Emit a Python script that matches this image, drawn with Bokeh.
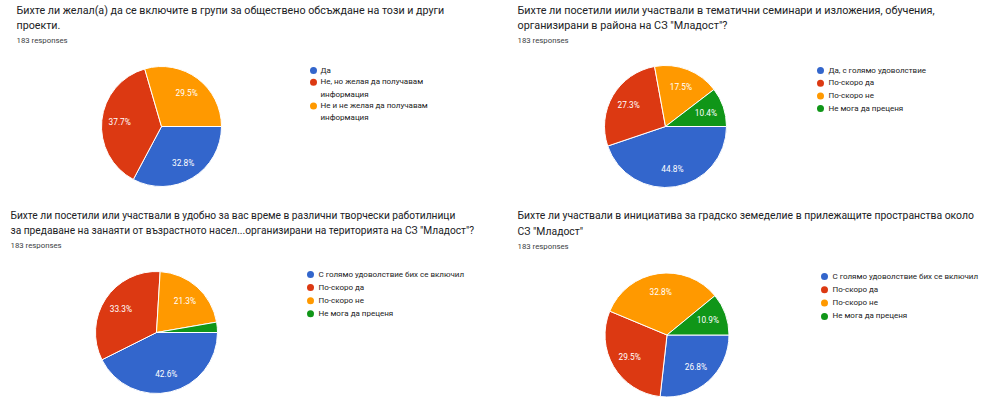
import numpy as np
from bokeh.plotting import figure
from bokeh.models import ColumnDataSource, Range1d
from bokeh.core.properties import value
from bokeh.embed import file_html
from bokeh.resources import INLINE

# ---------------- data ----------------
responses_text = "183 responses"
colors = ["#3366cc", "#dc3912", "#ff9900", "#109618"]

title_1 = ["Бихте ли желал(а) да се включите в групи за обществено обсъждане на този и други",
           "проекти."]
labels_1 = ["Да", "Не, но желая да получавам\nинформация", "Не и не желая да получавам\nинформация"]
counts_1 = [60, 69, 54]

title_2 = ["Бихте ли посетили иили участвали в тематични семинари и изложения, обучения,",
           "организирани в района на СЗ \"Младост\"?"]
labels_2 = ["Да, с голямо удоволствие", "По-скоро да", "По-скоро не", "Не мога да преценя"]
counts_2 = [82, 50, 32, 19]

title_3 = ["Бихте ли посетили или участвали в удобно за вас време в различни творчески работилници",
           "за предаване на занаяти от възрастното насел...организирани на територията на СЗ \"Младост\"?"]
labels_3 = ["С голямо удоволствие бих се включил", "По-скоро да", "По-скоро не", "Не мога да преценя"]
counts_3 = [78, 61, 39, 5]

title_4 = ["Бихте ли участвали в инициатива за градско земеделие в прилежащите пространства около",
           "СЗ \"Младост\""]
labels_4 = ["С голямо удоволствие бих се включил", "По-скоро да", "По-скоро не", "Не мога да преценя"]
counts_4 = [49, 54, 60, 20]

# ---------------- layout (page px from top-left) ----------------
W, H = 1000, 416
layouts = [
    dict(tx=16, ty1=10, ty2=25, ry=40, fs="10.7px", cx=161, cy=126, r=60, lx=313, ltx=320, ly=70, step=11.8),
    dict(tx=517, ty1=10, ty2=25, ry=40, fs="10.8px", cx=665, cy=126, r=61, lx=820, ltx=828, ly=70, step=12.7),
    dict(tx=10, ty1=215, ty2=230, ry=245, fs="10.2px", cx=156, cy=332, r=61, lx=310, ltx=318, ly=274, step=13.1),
    dict(tx=517, ty1=215, ty2=231, ry=246, fs="10.4px", cx=666.5, cy=334.5, r=62, lx=824, ltx=832, ly=276, step=13.3),
]
charts = [(title_1, labels_1, counts_1), (title_2, labels_2, counts_2),
          (title_3, labels_3, counts_3), (title_4, labels_4, counts_4)]

def Y(v):
    return H - v

FONT = value("Roboto")
p = figure(width=W, height=H, x_range=Range1d(0, W), y_range=Range1d(0, H),
           output_backend="svg", toolbar_location=None,
           x_axis_location=None, y_axis_location=None, min_border=0)
p.grid.visible = False
p.outline_line_color = None
p.background_fill_color = "white"
p.border_fill_color = "white"

for (title, labels, counts), L in zip(charts, layouts):
    # titles
    p.text(x=[L["tx"], L["tx"]], y=[Y(L["ty1"]), Y(L["ty2"])], text=title,
           text_font=FONT, text_font_size=L["fs"], text_color="#202124",
           text_baseline="middle", text_align="left")
    p.text(x=[L["tx"]], y=[Y(L["ry"])], text=[responses_text],
           text_font=FONT, text_font_size="7.8px", text_color="#3c4043",
           text_baseline="middle", text_align="left")
    # pie
    vals = np.array(counts, dtype=float)
    frac = vals / vals.sum()
    cum_end = np.cumsum(frac)
    cum_start = cum_end - frac
    n = len(counts)
    src = ColumnDataSource(dict(
        start=-cum_end * 2 * np.pi, end=-cum_start * 2 * np.pi,
        color=colors[:n]))
    p.wedge(x=L["cx"], y=Y(L["cy"]), radius=L["r"], start_angle="start", end_angle="end",
            fill_color="color", line_color="white", line_width=1, source=src)
    mid = -(cum_start + cum_end) * np.pi
    keep = frac >= 0.05
    lab_r = 0.7 * L["r"]
    p.text(x=list(L["cx"] + lab_r * np.cos(mid[keep])),
           y=list(Y(L["cy"]) + lab_r * np.sin(mid[keep])),
           text=[f"{f*100:.1f}%" for f in frac[keep]],
           text_font=FONT, text_font_size="8.3px", text_color="white",
           text_align="center", text_baseline="middle")
    # legend
    ys, y = [], L["ly"]
    for lab in labels:
        ys.append(Y(y))
        y += L["step"] * (lab.count("\n") + 1)
    p.scatter(x=[L["lx"]] * n, y=ys, size=7, marker="circle",
              fill_color=colors[:n], line_color=None)
    p.text(x=[L["ltx"]] * n, y=ys, text=labels,
           text_font=FONT, text_font_size="8px", text_color="#222222",
           text_align="left", text_baseline="top",
           y_offset=-5, text_line_height=1.4)

open("out.html", "w").write(file_html(p, INLINE))
